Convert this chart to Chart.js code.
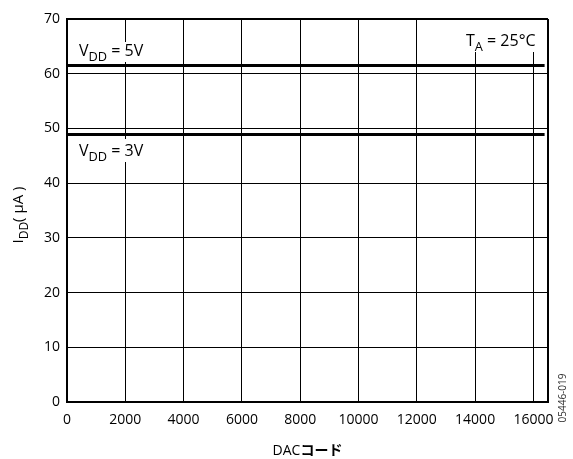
<!DOCTYPE html>
<html>
<head>
<meta charset="utf-8">
<script src="https://cdn.jsdelivr.net/npm/chart.js@4"></script>
<style>
  html, body { margin: 0; padding: 0; background: #fff; }
  #wrap { width: 573px; height: 459px; position: relative; }
</style>
</head>
<body>
<div id="wrap"><canvas id="iddChart"></canvas></div>
<script>
// Supply current vs DAC code (TA = 25°C)
const dacCodes = [0, 16383];
const idd5V = [61.5, 61.5];
const idd3V = [48.9, 48.9];
const xTicks = [0, 2000, 4000, 6000, 8000, 10000, 12000, 14000, 16000];
const yTicks = [0, 10, 20, 30, 40, 50, 60, 70];

const FONT = "'Open Sans', 'Noto Sans', 'Noto Sans CJK JP', sans-serif";
const X_MAX = 16500;
const Y_MAX = 70;

function toPoints(xs, ys) {
  return xs.map((x, i) => ({ x: x, y: ys[i] }));
}

// width of a label made of normal + subscript parts
function partsWidth(ctx, parts, size) {
  let w = 0;
  parts.forEach((p) => {
    ctx.font = (p.bold ? "bold " : "") + (p.sub ? size * 0.8 : size) + "px " + FONT;
    w += ctx.measureText(p.t).width;
  });
  return w;
}

// draw text with a subscript part
function subText(ctx, x, y, parts, size, bg) {
  if (bg) {
    const w = partsWidth(ctx, parts, size);
    ctx.save();
    ctx.fillStyle = "#fff";
    ctx.fillRect(bg.x0 !== undefined ? bg.x0 : x - 3, bg.y0, bg.x1 !== undefined ? bg.x1 - (bg.x0 !== undefined ? bg.x0 : x - 3) : w + 6, bg.y1 - bg.y0);
    ctx.restore();
  }
  parts.forEach((p) => {
    const s = p.sub ? size * 0.8 : size;
    ctx.font = (p.bold ? "bold " : "") + s + "px " + FONT;
    ctx.fillText(p.t, x, y + (p.sub ? size * 0.3 : 0));
    x += ctx.measureText(p.t).width;
  });
  return x;
}

const labelsPlugin = {
  id: "labels",
  afterDatasetsDraw(chart) {
    const ctx = chart.ctx;
    const area = chart.chartArea;
    ctx.save();
    ctx.fillStyle = "#000";
    ctx.textBaseline = "alphabetic";
    ctx.textAlign = "left";

    subText(ctx, 79, 56, [{ t: "V" }, { t: "DD", sub: true }, { t: " = 5V" }], 16, { y0: 42, y1: 62 });
    subText(ctx, 79, 156, [{ t: "V" }, { t: "DD", sub: true }, { t: " = 3V" }], 16, { y0: 139, y1: 162 });
    subText(ctx, 466, 46, [{ t: "T" }, { t: "A", sub: true }, { t: " = 25°C" }], 16, { y0: area.top + 1, y1: 52, x1: area.right - 1 });
    ctx.restore();
  },
  afterDraw(chart) {
    const ctx = chart.ctx;
    const area = chart.chartArea;
    ctx.save();
    ctx.fillStyle = "#000";
    ctx.textBaseline = "alphabetic";
    ctx.textAlign = "left";

    // x title
    const xParts = [{ t: "DAC" }, { t: "コード", bold: true }];
    const xw = partsWidth(ctx, xParts, 14);
    const cx = (area.left + area.right) / 2;
    subText(ctx, cx - xw / 2, 455, xParts, 14);

    // y title
    ctx.save();
    ctx.translate(23, 215);
    ctx.rotate(-Math.PI / 2);
    const yParts = [{ t: "I" }, { t: "DD", sub: true }, { t: "( μA )" }];
    const yw = partsWidth(ctx, yParts, 15);
    subText(ctx, -yw / 2, 0, yParts, 15);
    ctx.restore();

    // figure id
    ctx.save();
    ctx.translate(566, 398);
    ctx.rotate(-Math.PI / 2);
    ctx.font = "10px " + FONT;
    ctx.textAlign = "center";
    ctx.fillStyle = "#333";
    ctx.fillText("05446-019", 0, 0);
    ctx.restore();

    ctx.restore();
  },
};

function createIddChart() {
  const ctx = document.getElementById("iddChart");
  if (!ctx) return;

  new Chart(ctx, {
    type: "scatter",
    data: {
      datasets: [
        {
          label: "VDD = 5V",
          data: toPoints(dacCodes, idd5V),
          showLine: true,
          borderColor: "#000",
          borderWidth: 3,
          pointRadius: 0,
        },
        {
          label: "VDD = 3V",
          data: toPoints(dacCodes, idd3V),
          showLine: true,
          borderColor: "#000",
          borderWidth: 3,
          pointRadius: 0,
        },
      ],
    },
    options: {
      responsive: true,
      maintainAspectRatio: false,
      animation: false,
      layout: { padding: { left: 0, top: 19, right: 25, bottom: 0 } },
      plugins: {
        legend: { display: false },
        tooltip: { enabled: false },
      },
      scales: {
        x: {
          type: "linear",
          min: 0,
          max: X_MAX,
          afterBuildTicks: (scale) => {
            scale.ticks = xTicks.map((v) => ({ value: v })).concat([{ value: X_MAX }]);
          },
          afterFit: (scale) => {
            scale.height = 57;
          },
          grid: {
            color: "#000",
            lineWidth: (c) => (c.tick && c.tick.value === X_MAX ? 2 : 1),
            drawTicks: false,
          },
          border: { color: "#000", width: 2 },
          ticks: {
            color: "#000",
            padding: 10,
            maxRotation: 0,
            autoSkip: false,
            font: { family: FONT, size: 14 },
            callback: (v) => (v === X_MAX ? "" : String(v)),
          },
        },
        y: {
          min: 0,
          max: Y_MAX,
          afterBuildTicks: (scale) => {
            scale.ticks = yTicks.map((v) => ({ value: v }));
          },
          afterFit: (scale) => {
            scale.width = 67;
          },
          grid: {
            color: "#000",
            lineWidth: (c) => (c.tick && c.tick.value === Y_MAX ? 2 : 1),
            drawTicks: false,
          },
          border: { color: "#000", width: 2 },
          ticks: {
            color: "#000",
            padding: 7,
            autoSkip: false,
            font: { family: FONT, size: 14 },
          },
        },
      },
    },
    plugins: [labelsPlugin],
  });
}

document.addEventListener("DOMContentLoaded", function () {
  createIddChart();
});
</script>
</body>
</html>
